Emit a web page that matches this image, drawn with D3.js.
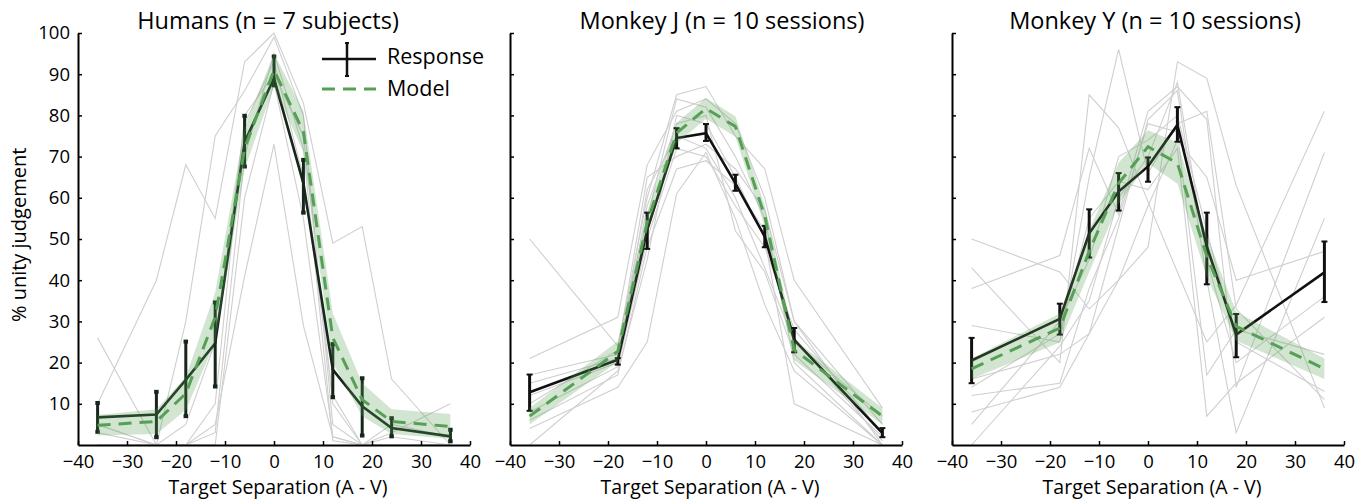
<!DOCTYPE html>
<html lang="en">
<head>
<meta charset="UTF-8">
<title>Unity judgement</title>
<script src="https://d3js.org/d3.v7.min.js"></script>
<style>
  body { margin: 0; background: #fff; }
  svg { display: block; font-family: "Open Sans", sans-serif; }
  .axis path, .axis line { stroke: #000; }
  .axis path { stroke-width: 2px; }
  .axis line { stroke-width: 1.5px; }
  .axis text { font-family: "Open Sans", sans-serif; font-size: 18.5px; fill: #000; }
  .title { font-size: 23.5px; }
  .xlabel { font-size: 19.5px; }
  .ylabel { font-size: 20px; }
  .legend text { font-size: 21.5px; }
</style>
</head>
<body>
<div id="chart"></div>
<script>
// separations (A - V), degrees
const xsHuman = [-36, -24, -18, -12, -6, 0, 6, 12, 18, 24, 36];
const xsMonkey = [-36, -18, -12, -6, 0, 6, 12, 18, 36];

const titles = ["Humans (n = 7 subjects)", "Monkey J (n = 10 sessions)", "Monkey Y (n = 10 sessions)"];
const xTicks = [-40, -30, -20, -10, 0, 10, 20, 30, 40];
const yTicks = [10, 20, 30, 40, 50, 60, 70, 80, 90, 100];

// Humans
const humanResp   = [6.7, 7.4, 15.8, 24.7, 73.5, 89.0, 63.5, 18.3, 9.4, 4.1, 2.1];
const humanRespLo = [3.2, 1.9, 7.0, 14.2, 67.6, 87.3, 56.4, 11.6, 2.3, 2.1, 0.9];
const humanRespHi = [10.2, 12.9, 25.1, 34.6, 79.9, 94.3, 69.2, 24.5, 16.2, 6.5, 3.7];
const humanModel  = [4.8, 5.7, 12.5, 31.0, 72.0, 91.0, 76.0, 26.0, 11.0, 5.7, 4.5];
const humanBand   = [2.5, 3.0, 4.0, 6.0, 5.0, 4.0, 5.0, 6.0, 4.0, 3.0, 3.0];
const humanSubjects = [
  [26, 0, 0, 5, 41, 73, 29, 2, 0, 0, 0],
  [10, 40, 68, 55, 93, 100, 83, 49, 53, 16, 0],
  [5, 0, 30, 75, 86, 99, 80, 5, 0, 2, 0],
  [3, 0, 0, 10, 80, 90, 75, 10, 0, 0, 0],
  [0, 0, 0, 3, 70, 95, 72, 1, 0, 3, 10],
  [5, 0, 5, 25, 78, 93, 65, 12, 0, 5, 2],
  [0, 0, 0, 0, 60, 88, 55, 2, 0, 0, 0]
];

// Monkey J
const jResp   = [12.8, 20.7, 52.2, 74.5, 75.7, 63.5, 50.6, 25.5, 2.9];
const jRespLo = [8.3, 19.5, 47.6, 72.0, 73.8, 61.7, 48.0, 22.5, 1.9];
const jRespHi = [17.1, 21.1, 56.4, 76.9, 77.9, 65.6, 53.2, 28.4, 4.1];
const jModel  = [7.0, 22.7, 54.0, 75.7, 81.7, 77.3, 55.5, 23.1, 7.0];
const jBand   = [2.0, 2.5, 2.5, 2.5, 2.5, 2.5, 2.5, 2.5, 2.0];
const jSessions = [
  [50, 24, 60, 85, 87, 75, 67, 40, 9],
  [21, 31, 68, 81, 84, 78, 60, 30, 0],
  [17, 22, 55, 84, 82, 70, 55, 20, 0],
  [0, 18, 45, 80, 78, 65, 50, 10, 0],
  [12, 20, 62, 75, 72, 60, 43, 25, 7],
  [8, 19, 50, 72, 70, 58, 48, 28, 3],
  [4, 14, 25, 61, 71, 55, 34, 18, 0],
  [15, 21, 58, 78, 80, 52, 42, 22, 2],
  [10, 23, 65, 70, 73, 67, 57, 30, 5],
  [6, 17, 48, 67, 69, 63, 52, 26, 1]
];

// Monkey Y
const yResp   = [20.5, 30.6, 51.4, 61.5, 67.6, 77.7, 48.2, 26.8, 41.9];
const yRespLo = [15.0, 26.8, 45.5, 56.9, 63.9, 73.6, 39.0, 21.3, 34.7];
const yRespHi = [26.0, 34.3, 57.2, 66.0, 69.8, 82.0, 56.4, 31.8, 49.4];
const yModel  = [18.5, 28.4, 47.0, 63.5, 72.4, 68.4, 45.8, 28.8, 18.5];
const yBand   = [2.5, 3.5, 5.0, 5.0, 4.0, 5.0, 5.0, 3.5, 2.5];
const ySessions = [
  [50, 42, 33, 40, 48, 93, 89, 63, 9],
  [43, 20, 85, 77, 59, 42, 25, 34, 81],
  [38, 46, 72, 56, 81, 87, 79, 14, 71],
  [29, 25, 65, 96, 66, 78, 81, 33, 11],
  [16, 22, 27, 53, 79, 86, 40, 3, 55],
  [14, 27, 55, 64, 62, 72, 7, 15, 31],
  [12, 15, 38, 55, 78, 76, 17, 28, 22],
  [8, 14, 27, 40, 58, 74, 65, 40, 47],
  [5, 30, 45, 70, 74, 80, 52, 25, 13],
  [0, 24, 35, 60, 70, 88, 45, 20, 36]
];

const panels = [
  { xs: xsHuman, resp: humanResp, lo: humanRespLo, hi: humanRespHi, model: humanModel, band: humanBand, ind: humanSubjects,
    left: 78, right: 470, titleDx: -6, yLabels: true, capW: 4.5, capH: 4, respColor: "#16261a" },
  { xs: xsMonkey, resp: jResp, lo: jRespLo, hi: jRespHi, model: jModel, band: jBand, ind: jSessions,
    left: 510, right: 902, titleDx: 16, yLabels: false, capW: 6, capH: 2, respColor: "#111" },
  { xs: xsMonkey, resp: yResp, lo: yRespLo, hi: yRespHi, model: yModel, band: yBand, ind: ySessions,
    left: 952, right: 1344, titleDx: 7, yLabels: false, capW: 6, capH: 2, respColor: "#111" }
];

const width = 1368, height = 501;
const plotTop = 33, plotBottom = 445;
const green = "#55a055";

const svg = d3.select("#chart").append("svg")
  .attr("width", width)
  .attr("height", height);

panels.forEach((p, i) => {
  const x = d3.scaleLinear().domain([-40, 40]).range([p.left, p.right]);
  const y = d3.scaleLinear().domain([0, 100]).range([plotBottom, plotTop]);
  const g = svg.append("g");

  // individual subjects / sessions
  const line = d3.line().x((d, k) => x(p.xs[k])).y(d => y(d));
  g.selectAll(".ind").data(p.ind).enter().append("path")
    .attr("d", line)
    .attr("fill", "none")
    .attr("stroke", "#cfcfcf")
    .attr("stroke-width", 1.1);

  // response
  g.append("path")
    .attr("d", line(p.resp))
    .attr("fill", "none")
    .attr("stroke", p.respColor)
    .attr("stroke-width", 2.6);

  const eb = g.selectAll(".eb").data(p.xs).enter().append("g");
  eb.append("line")
    .attr("x1", d => x(d)).attr("x2", d => x(d))
    .attr("y1", (d, k) => y(p.lo[k])).attr("y2", (d, k) => y(p.hi[k]))
    .attr("stroke", p.respColor).attr("stroke-width", 3);
  eb.append("rect")
    .attr("x", d => x(d) - p.capW / 2).attr("width", p.capW)
    .attr("y", (d, k) => y(p.hi[k]) - p.capH / 2).attr("height", p.capH)
    .attr("fill", p.respColor);
  eb.append("rect")
    .attr("x", d => x(d) - p.capW / 2).attr("width", p.capW)
    .attr("y", (d, k) => y(p.lo[k]) - p.capH / 2).attr("height", p.capH)
    .attr("fill", p.respColor);

  // model band + dashed fit
  const area = d3.area()
    .x((d, k) => x(p.xs[k]))
    .y0((d, k) => y(d - p.band[k]))
    .y1((d, k) => y(d + p.band[k]));
  g.append("path")
    .attr("d", area(p.model))
    .attr("fill", green)
    .attr("fill-opacity", 0.27);
  g.append("path")
    .attr("d", line(p.model))
    .attr("fill", "none")
    .attr("stroke", green)
    .attr("stroke-width", 3)
    .attr("stroke-dasharray", "13,8");

  // axes
  g.append("g")
    .attr("class", "axis")
    .attr("transform", `translate(0,${plotBottom})`)
    .call(d3.axisBottom(x).tickValues(xTicks).tickSizeInner(-4).tickSizeOuter(0).tickPadding(10).tickFormat(d3.format("d")));
  const yAxis = d3.axisLeft(y).tickValues(yTicks).tickSizeInner(-4).tickSizeOuter(0).tickPadding(8);
  if (!p.yLabels) yAxis.tickFormat("");
  g.append("g")
    .attr("class", "axis")
    .attr("transform", `translate(${p.left},0)`)
    .call(yAxis);

  g.append("text")
    .attr("class", "title")
    .attr("x", (p.left + p.right) / 2 + p.titleDx)
    .attr("y", 29)
    .attr("text-anchor", "middle")
    .text(titles[i]);

  g.append("text")
    .attr("class", "xlabel")
    .attr("x", x(0) + 4)
    .attr("y", 494)
    .attr("text-anchor", "middle")
    .text("Target Separation (A - V)");

  if (i === 0) {
    // legend
    const lg = svg.append("g").attr("class", "legend").attr("transform", "translate(322,0)");
    lg.append("line").attr("x1", 0).attr("x2", 54).attr("y1", 59).attr("y2", 59)
      .attr("stroke", "#111").attr("stroke-width", 2.6);
    lg.append("line").attr("x1", 25).attr("x2", 25).attr("y1", 43).attr("y2", 76)
      .attr("stroke", "#111").attr("stroke-width", 2.5);
    lg.append("line").attr("x1", 23).attr("x2", 27).attr("y1", 43).attr("y2", 43)
      .attr("stroke", "#111").attr("stroke-width", 2);
    lg.append("line").attr("x1", 23).attr("x2", 27).attr("y1", 76).attr("y2", 76)
      .attr("stroke", "#111").attr("stroke-width", 2);
    lg.append("line").attr("x1", 0).attr("x2", 54).attr("y1", 89).attr("y2", 89)
      .attr("stroke", green).attr("stroke-width", 3).attr("stroke-dasharray", "13,8");
    lg.append("text").attr("x", 65).attr("y", 64).text("Response");
    lg.append("text").attr("x", 65).attr("y", 96).text("Model");

    svg.append("text")
      .attr("class", "ylabel")
      .attr("transform", `translate(26,${y(51)}) rotate(-90)`)
      .attr("text-anchor", "middle")
      .text("% unity judgement");
  }
});
</script>
</body>
</html>
